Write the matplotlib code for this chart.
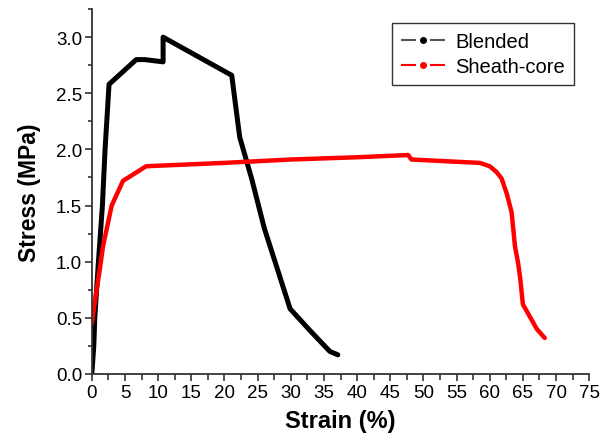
"""Stress-strain curves for blended vs sheath-core fibres."""

import matplotlib
matplotlib.use("Agg")
import matplotlib.pyplot as plt
from matplotlib.lines import Line2D
from matplotlib.ticker import MultipleLocator, FormatStrFormatter

# values
blended_strain = [0.0, 0.3, 0.45, 1.0, 1.6, 2.0, 2.6, 6.7, 8.0, 10.75, 10.75,
                  21.1, 22.3, 24.1, 26.0, 29.9, 33.0, 35.9, 37.1]
blended_stress = [0.0, 0.25, 0.5, 1.0, 1.5, 2.0, 2.58, 2.80, 2.80, 2.78, 3.0,
                  2.66, 2.11, 1.74, 1.30, 0.58, 0.38, 0.20, 0.17]

sheath_strain = [0.0, 0.45, 1.2, 1.7, 3.0, 4.7, 8.2, 20.0, 30.0, 40.0, 47.7,
                 48.2, 55.0, 58.5, 60.0, 61.0, 61.8, 62.6, 63.3, 63.8, 64.3,
                 64.6, 65.0, 67.1, 68.3]
sheath_stress = [0.45, 0.64, 0.93, 1.14, 1.50, 1.72, 1.85, 1.88, 1.91, 1.93, 1.95,
                 1.91, 1.89, 1.88, 1.85, 1.80, 1.74, 1.60, 1.44, 1.14, 0.98,
                 0.85, 0.62, 0.40, 0.32]

plt.rcParams["font.family"] = ["Liberation Sans", "DejaVu Sans"]

fig = plt.figure(figsize=(6.0, 4.39), dpi=100)
ax = fig.add_axes([0.153, 0.146, 0.829, 0.831])

ax.plot(blended_strain, blended_stress, color="black", lw=3.6,
        solid_joinstyle="round", solid_capstyle="round")
ax.plot(sheath_strain, sheath_stress, color="#ff0000", lw=3.2,
        solid_joinstyle="round", solid_capstyle="round")

ax.set_xlim(0, 75)
ax.set_ylim(0, 3.25)
ax.xaxis.set_major_locator(MultipleLocator(5))
ax.xaxis.set_minor_locator(MultipleLocator(2.5))
ax.yaxis.set_major_locator(MultipleLocator(0.5))
ax.yaxis.set_minor_locator(MultipleLocator(0.25))
ax.yaxis.set_major_formatter(FormatStrFormatter("%.1f"))
ax.tick_params(which="both", direction="out", width=1.2, labelsize=13.5,
               pad=2, color="#333333")
ax.tick_params(which="major", length=5)
ax.tick_params(which="minor", length=4)
ax.tick_params(axis="y", which="minor", length=3)

for side in ("top", "right"):
    ax.spines[side].set_visible(False)
for side in ("left", "bottom"):
    ax.spines[side].set_linewidth(1.3)
    ax.spines[side].set_color("#333333")

ax.set_xlabel("Strain (%)", fontsize=17, fontweight="bold", labelpad=6)
ax.set_ylabel("Stress (MPa)", fontsize=16.5, fontweight="bold", labelpad=11)

# legend handles look like "—•—" in the original: dash, dot, dash
handles = [
    Line2D([], [], color="#555555", ls=(0, (7.2, 6.7)), lw=1.5, marker="o",
           markersize=4, markerfacecolor="black", markeredgecolor="black"),
    Line2D([], [], color="#ff0000", ls=(0, (7.2, 6.7)), lw=1.5, marker="o",
           markersize=4, markerfacecolor="#ff0000", markeredgecolor="#ff0000"),
]
leg = ax.legend(handles, ["Blended", "Sheath-core"], loc="upper right",
                bbox_to_anchor=(0.99, 0.99), fontsize=14.5, frameon=True,
                fancybox=False, edgecolor="black", handlelength=2.2,
                handletextpad=0.5, borderpad=0.45, labelspacing=0.3)
leg.get_frame().set_linewidth(1.0)

fig.savefig("out.png", dpi=100)
